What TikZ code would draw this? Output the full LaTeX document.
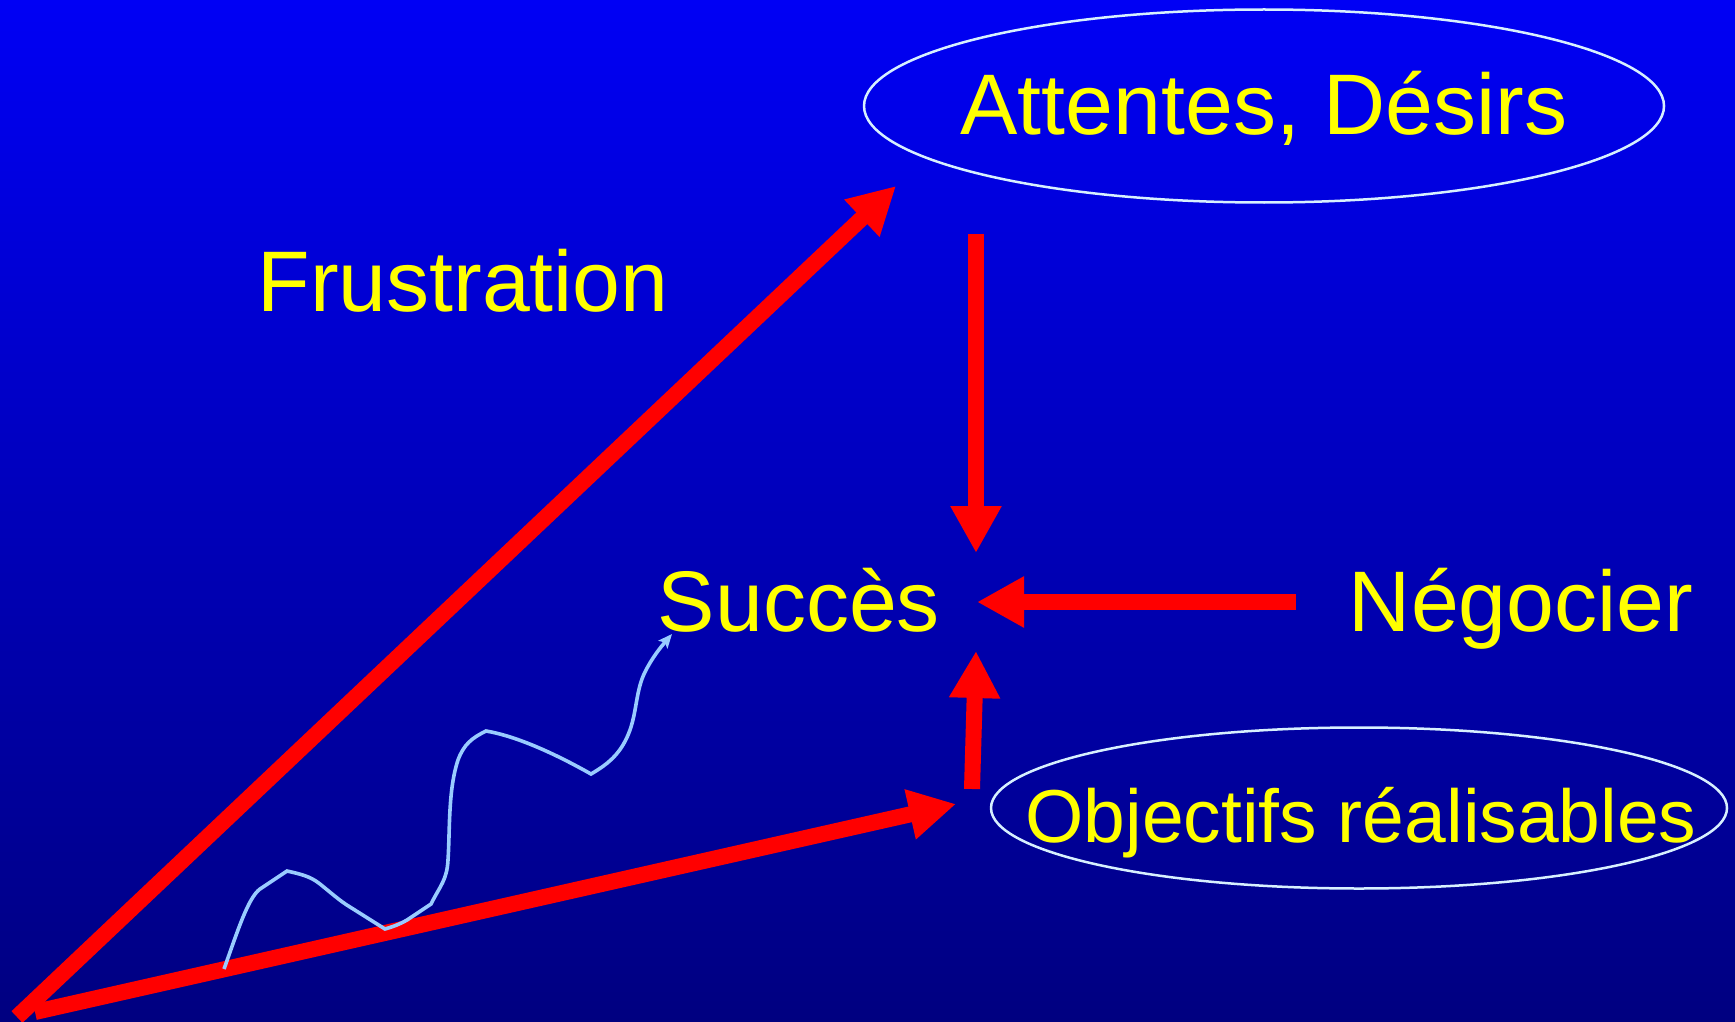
\documentclass[tikz,border=0pt]{standalone}
\usepackage{fontspec}
\setmainfont{Liberation Sans}
\usetikzlibrary{arrows.meta,shapes.geometric}
\definecolor{bgtop}{RGB}{0,0,245}
\definecolor{bgbot}{RGB}{0,0,128}
\definecolor{txt}{RGB}{255,255,0}
\definecolor{arr}{RGB}{255,0,0}
\definecolor{wavec}{RGB}{153,204,255}
\definecolor{ringc}{RGB}{215,240,255}
\begin{document}
\begin{tikzpicture}[x=1pt,y=-1pt,
  lbl/.style={text=txt, inner sep=0pt, anchor=base, font=\fontsize{86}{100}\selectfont},
  smalllbl/.style={lbl, font=\fontsize{75}{90}\selectfont},
  bigarrow/.style={draw=arr, line width=16pt, -{Triangle[length=47pt,width=48pt]}},
  ringstyle/.style={draw=ringc, line width=2.5pt, ellipse, inner sep=0pt, outer sep=0pt},
  wave/.style={draw=wavec, line width=3.6pt, -{Stealth[length=14pt,width=12pt,inset=3pt]}}]
\shade[top color=bgtop,bottom color=bgbot] (0,0) rectangle (1735,1022);
\useasboundingbox (0,0) rectangle (1735,1022);

% ellipses
\node[ringstyle, minimum width=800pt, minimum height=193pt] (e1) at (1264,106) {};
\node[ringstyle, minimum width=736pt, minimum height=161pt] (e2) at (1359,808) {};

% labels
\node[lbl] (att) at (1264,135) {Attentes, Désirs};
\node[lbl] (fru) at (463,311) {Frustration};
\node[lbl] (suc) at (799,631) {Succès};
\node[lbl] (neg) at (1521,631) {Négocier};
\node[smalllbl] (obj) at (1361,842) {Objectifs réalisables};

% arrow end points
\coordinate (f0) at (17,1017);
\coordinate (f1) at (896,186);
\coordinate (b0) at (35,1012);
\coordinate (b1) at (956,804);
\coordinate (d0) at (976,234);
\coordinate (d1) at (976,553);
\coordinate (l0) at (1296,602);
\coordinate (l1) at (977,602);
\coordinate (u0) at (972,789);
\coordinate (u1) at (976,651);

\draw[bigarrow] (f0) -- (f1);
\draw[bigarrow] (b0) -- (b1);
\draw[bigarrow] (d0) -- (d1);
\draw[bigarrow] (l0) -- (l1);
\draw[bigarrow] (u0) -- (u1);

% wavy path
\coordinate (w0) at (224,969);
\coordinate (w1) at (672,634);
\draw[wave] (w0) .. controls (238,930) and (248,898) .. (260,889)
  -- (287,871) .. controls (300,874) and (310,876) .. (320,884)
  .. controls (330,892) and (340,901) .. (350,907)
  -- (385,929) .. controls (395,926) and (400,924) .. (407,920)
  -- (431,904) .. controls (440,886) and (447,880) .. (448,860)
  .. controls (450,830) and (448,790) .. (458,760)
  .. controls (464,744) and (472,738) .. (486,731)
  .. controls (510,735) and (545,748) .. (591,774)
  .. controls (610,763) and (622,752) .. (630,730)
  .. controls (637,710) and (636,690) .. (645,672)
  .. controls (652,658) and (660,648) .. (w1);
\end{tikzpicture}
\end{document}
